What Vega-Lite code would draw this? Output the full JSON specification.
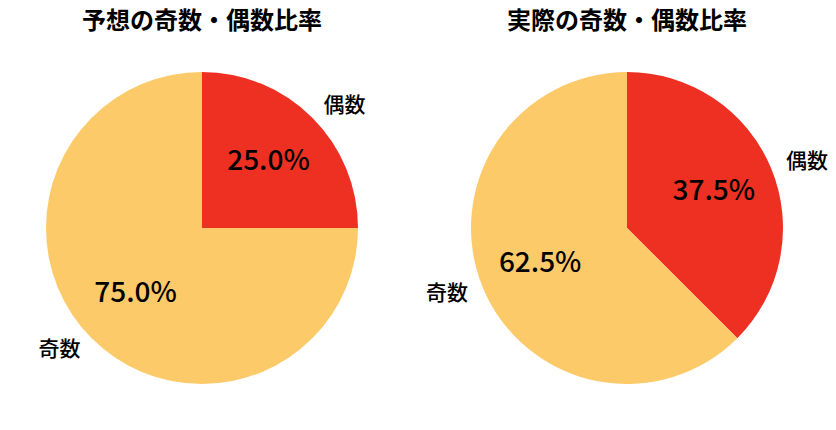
{
  "$schema": "https://vega.github.io/schema/vega-lite/v6.json",
  "background": "#ffffff",
  "padding": {"left": 7, "top": 10, "right": 5, "bottom": 0},
  "spacing": 35,
  "bounds": "flush",
  "config": {
    "view": {"stroke": null},
    "font": "Noto Sans CJK JP",
    "title": {"font": "Noto Sans CJK JP", "fontSize": 24, "fontWeight": "bold", "color": "#000000", "anchor": "middle"}
  },
  "datasets": {
    "pies": [
      {"chart": "予想", "category": "偶数", "value": 0.25},
      {"chart": "予想", "category": "奇数", "value": 0.75},
      {"chart": "実際", "category": "偶数", "value": 0.375},
      {"chart": "実際", "category": "奇数", "value": 0.625}
    ]
  },
  "hconcat": [
    {
      "title": "予想の奇数・偶数比率",
      "width": 390,
      "height": 380,
      "data": {"name": "pies"},
      "transform": [{"filter": "datum.chart == '予想'"}],
      "encoding": {
        "theta": {"field": "value", "type": "quantitative", "stack": true},
        "order": {"field": "category", "sort": "ascending"},
        "color": {
          "field": "category",
          "type": "nominal",
          "scale": {"domain": ["偶数", "奇数"], "range": ["#ee3023", "#fdca6a"]},
          "legend": null
        }
      },
      "layer": [
        {"mark": {"type": "arc", "radius": 156}},
        {
          "mark": {"type": "text", "radius": 94, "fontSize": 28, "fontWeight": 500},
          "encoding": {"text": {"field": "value", "type": "quantitative", "format": ".1%"}, "color": {"value": "#000000"}}
        },
        {
          "mark": {"type": "text", "radius": 172, "fontSize": 21, "fontWeight": 500, "align": "left"},
          "encoding": {
            "text": {"condition": {"test": "datum.category == '偶数'", "field": "category"}, "value": ""},
            "color": {"value": "#000000"}
          }
        },
        {
          "mark": {"type": "text", "radius": 172, "fontSize": 21, "fontWeight": 500, "align": "right"},
          "encoding": {
            "text": {"condition": {"test": "datum.category == '奇数'", "field": "category"}, "value": ""},
            "color": {"value": "#000000"}
          }
        }
      ]
    },
    {
      "title": "実際の奇数・偶数比率",
      "width": 390,
      "height": 380,
      "data": {"name": "pies"},
      "transform": [{"filter": "datum.chart == '実際'"}],
      "encoding": {
        "theta": {"field": "value", "type": "quantitative", "stack": true},
        "order": {"field": "category", "sort": "ascending"},
        "color": {
          "field": "category",
          "type": "nominal",
          "scale": {"domain": ["偶数", "奇数"], "range": ["#ee3023", "#fdca6a"]},
          "legend": null
        }
      },
      "layer": [
        {"mark": {"type": "arc", "radius": 156}},
        {
          "mark": {"type": "text", "radius": 94, "fontSize": 28, "fontWeight": 500},
          "encoding": {"text": {"field": "value", "type": "quantitative", "format": ".1%"}, "color": {"value": "#000000"}}
        },
        {
          "mark": {"type": "text", "radius": 172, "fontSize": 21, "fontWeight": 500, "align": "left"},
          "encoding": {
            "text": {"condition": {"test": "datum.category == '偶数'", "field": "category"}, "value": ""},
            "color": {"value": "#000000"}
          }
        },
        {
          "mark": {"type": "text", "radius": 172, "fontSize": 21, "fontWeight": 500, "align": "right"},
          "encoding": {
            "text": {"condition": {"test": "datum.category == '奇数'", "field": "category"}, "value": ""},
            "color": {"value": "#000000"}
          }
        }
      ]
    }
  ]
}
